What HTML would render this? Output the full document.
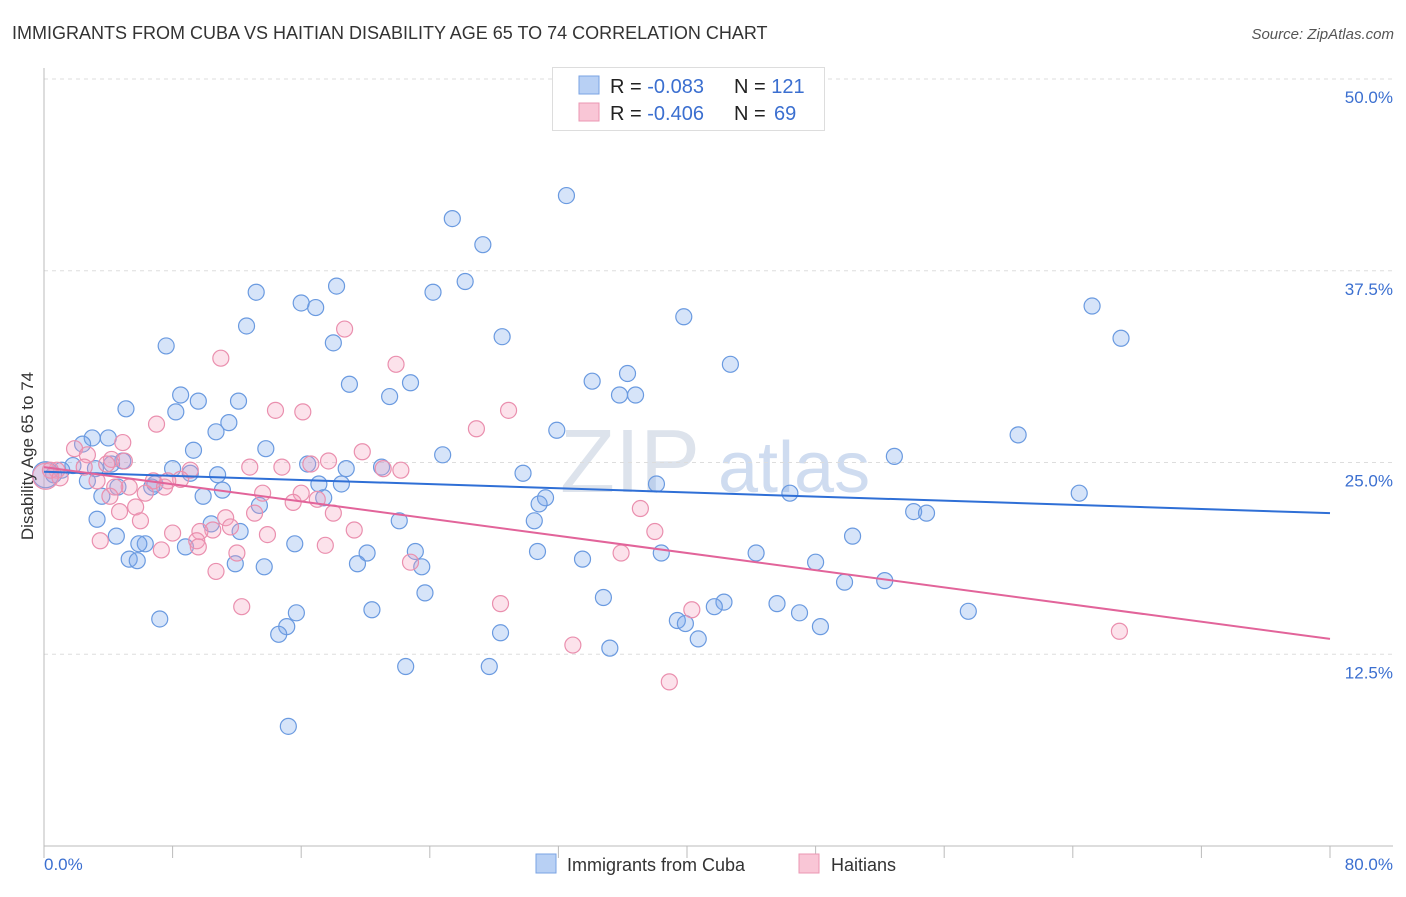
<!DOCTYPE html>
<html><head><meta charset="utf-8"><style>
body{margin:0;background:#fff;font-family:"Liberation Sans",sans-serif;}
svg text{font-family:"Liberation Sans",sans-serif;}
</style></head><body>
<svg id="chart" width="1406" height="892" xmlns="http://www.w3.org/2000/svg">
<text x="12" y="39" font-size="18" fill="#333">IMMIGRANTS FROM CUBA VS HAITIAN DISABILITY AGE 65 TO 74 CORRELATION CHART</text>
<text x="1394" y="39" font-size="15" fill="#555" font-style="italic" text-anchor="end">Source: ZipAtlas.com</text>
<text x="560" y="492" font-size="90" fill="#dde3ec" font-family="Liberation Serif">ZIP</text>
<text x="718" y="492" font-size="72" fill="#cfdcf0">atlas</text>
<g id="grid"></g><g id="axes"></g><g id="trend"></g><g id="pts"></g>
<text transform="translate(33,456) rotate(-90)" font-size="17" fill="#333" text-anchor="middle">Disability Age 65 to 74</text>
<text x="44" y="870" font-size="17" fill="#3b6fd0">0.0%</text>
<text x="1393" y="870" font-size="17" fill="#3b6fd0" text-anchor="end">80.0%</text>
<g>
<rect x="552.5" y="67.5" width="272" height="63" fill="#fff" stroke="#ddd"/>
<rect x="579" y="76" width="20" height="18" fill="#b8d0f4" stroke="#7aa3e3"/>
<rect x="579" y="103" width="20" height="18" fill="#f9c6d6" stroke="#eb97b3"/>
<text x="610" y="93" font-size="20" fill="#222">R = <tspan fill="#3b6fd0">-0.083</tspan><tspan x="734">N = </tspan><tspan fill="#3b6fd0">121</tspan></text>
<text x="610" y="120" font-size="20" fill="#222">R = <tspan fill="#3b6fd0">-0.406</tspan><tspan x="734">N = </tspan><tspan fill="#3b6fd0" x="774">69</tspan></text>
</g>
<g>
<rect x="536" y="854" width="20" height="19" fill="#b8d0f4" stroke="#7aa3e3"/>
<text x="567" y="871" font-size="18" fill="#333">Immigrants from Cuba</text>
<rect x="799" y="854" width="20" height="19" fill="#f9c6d6" stroke="#eb97b3"/>
<text x="831" y="871" font-size="18" fill="#333">Haitians</text>
</g>
</svg>
<script>
const yTicks=[12.5,25,37.5,50];
const yTickLabels=["12.5%","25.0%","37.5%","50.0%"];
const xTicks=[0,8,16,24,32,40,48,56,64,72,80];
const cubaX=[32.5,25.4,27.3,26.2,24.2,18.2,13.2,16.0,16.9,12.6,7.6,18.0,28.5,39.8,65.2,67.0,42.7,36.3,34.1,19.0,22.8,8.5,9.6,12.1,21.5,5.1,8.2,11.5,10.7,35.8,36.8,31.9,60.6,3.0,4.0,2.4,9.3,13.8,24.8,52.9,4.9,4.2,1.8,16.4,18.8,21.0,8.0,9.1,10.8,29.8,3.2,1.1,0.6,2.7,6.9,6.7,17.1,18.5,38.1,4.6,11.1,9.9,17.4,3.6,31.2,30.8,46.4,64.4,13.4,3.3,10.4,22.1,30.5,54.1,54.9,4.5,12.2,6.3,5.9,8.8,15.6,50.3,30.7,23.1,38.4,44.3,20.1,5.3,5.8,11.9,13.7,19.5,23.5,33.5,48.0,49.8,52.3,23.7,34.8,42.3,41.7,45.6,20.4,47.0,57.5,15.7,7.2,39.4,39.9,15.1,14.6,28.4,48.3,40.7,35.2,22.5,27.7,15.2,0.1];
const cubaY=[42.4,40.9,39.2,36.8,36.1,36.5,36.1,35.4,35.1,33.9,32.6,32.8,33.2,34.5,35.2,33.1,31.4,30.8,30.3,30.1,30.2,29.4,29.0,29.0,29.3,28.5,28.3,27.6,27.0,29.4,29.4,27.1,26.8,26.6,26.6,26.2,25.8,25.9,25.5,25.4,25.1,24.9,24.8,24.9,24.6,24.7,24.6,24.3,24.2,24.3,24.6,24.5,24.2,23.8,23.6,23.4,23.6,23.6,23.6,23.4,23.2,22.8,22.7,22.8,22.7,22.3,23.0,23.0,22.2,21.3,21.0,21.2,21.2,21.8,21.7,20.2,20.5,19.7,19.7,19.5,19.7,20.2,19.2,19.2,19.1,19.1,19.1,18.7,18.6,18.4,18.2,18.4,18.2,18.7,18.5,17.2,17.3,16.5,16.2,15.9,15.6,15.8,15.4,15.2,15.3,15.2,14.8,14.7,14.5,14.3,13.8,13.9,14.3,13.5,12.9,11.7,11.7,7.8,24.2];
const haitiX=[18.7,11.0,21.9,28.9,14.4,16.1,7.0,26.9,4.9,1.9,2.7,19.8,4.2,3.9,17.7,12.8,14.8,16.6,22.2,21.1,2.5,9.1,0.8,0.1,3.3,5.3,8.5,7.7,6.8,7.5,4.4,13.6,16.0,17.0,15.5,6.3,4.1,5.7,18.0,4.7,6.0,11.3,13.1,11.6,10.5,9.7,19.3,37.1,38.0,8.0,13.9,9.5,17.5,9.6,12.0,7.3,35.9,22.8,10.7,12.3,28.4,40.3,32.9,66.9,38.9,0.4,1.0,3.5,5.0];
const haitiY=[33.7,31.8,31.4,28.4,28.4,28.3,27.5,27.2,26.3,25.9,25.5,25.7,25.2,24.9,25.1,24.7,24.7,24.9,24.5,24.6,24.7,24.5,24.5,24.1,23.8,23.4,23.9,23.8,23.8,23.4,23.4,23.0,23.0,22.6,22.4,23.0,22.8,22.1,21.7,21.8,21.2,21.4,21.7,20.8,20.6,20.5,20.6,22.0,20.5,20.4,20.3,19.9,19.6,19.5,19.1,19.3,19.1,18.5,17.9,15.6,15.8,15.4,13.1,14.0,10.7,24.5,24.0,19.9,25.1];
const trendCuba=[24.4,21.7];
const trendHaiti=[24.7,13.5];
const NS="http://www.w3.org/2000/svg";
const X0=44,X1=1330,Y0=846,Y50=79;
const sx=v=>X0+(v/80)*(X1-X0);
const sy=v=>Y0-(v/50)*(Y0-Y50);
function mk(tag,parent,attrs){const e=document.createElementNS(NS,tag);for(const k in attrs)e.setAttribute(k,attrs[k]);document.getElementById(parent).appendChild(e);return e;}
yTicks.forEach((t,i)=>{
 const l=mk('line','grid',{x1:X0,x2:1393,y1:sy(t),y2:sy(t),stroke:'#ddd','stroke-dasharray':'4 4'});
 
 
 const tx=mk('text','grid',{x:1393,y:sy(t)+24,'font-size':17,fill:'#3b6fd0','text-anchor':'end'});
 tx.textContent=yTickLabels[i];
 
 
});
const ya=mk('line','axes',{x1:X0,x2:X0,y1:68,y2:Y0,stroke:'#bbb'});


const xa=mk('line','axes',{x1:X0,x2:1393,y1:Y0,y2:Y0,stroke:'#bbb'});


xTicks.forEach(t=>{
 const l=mk('line','axes',{x1:sx(t),x2:sx(t),y1:Y0,y2:Y0+12,stroke:'#bbb'});
 
 
});
function pts(xs,ys,fill,stroke,name){
 xs.forEach((x,i)=>{
  const big=(x<0.3);
  const c=mk('circle','pts',{cx:sx(x),cy:sy(ys[i]),r:big?13:8,fill:fill,stroke:stroke,'stroke-width':1.2});
  
  
 });
}
pts(cubaX,cubaY,'rgba(120,165,235,0.3)','#6a9ae0','cuba-point');
pts(haitiX,haitiY,'rgba(245,160,190,0.3)','#ea8fae','haitian-point');
const tc=mk('line','trend',{x1:sx(0),y1:sy(trendCuba[0]),x2:sx(80),y2:sy(trendCuba[1]),stroke:'#2f6fd6','stroke-width':2});


const th=mk('line','trend',{x1:sx(0),y1:sy(trendHaiti[0]),x2:sx(80),y2:sy(trendHaiti[1]),stroke:'#e2649a','stroke-width':2});


document.getElementById('chart').appendChild(document.getElementById('trend'));
</script>
</body></html>
